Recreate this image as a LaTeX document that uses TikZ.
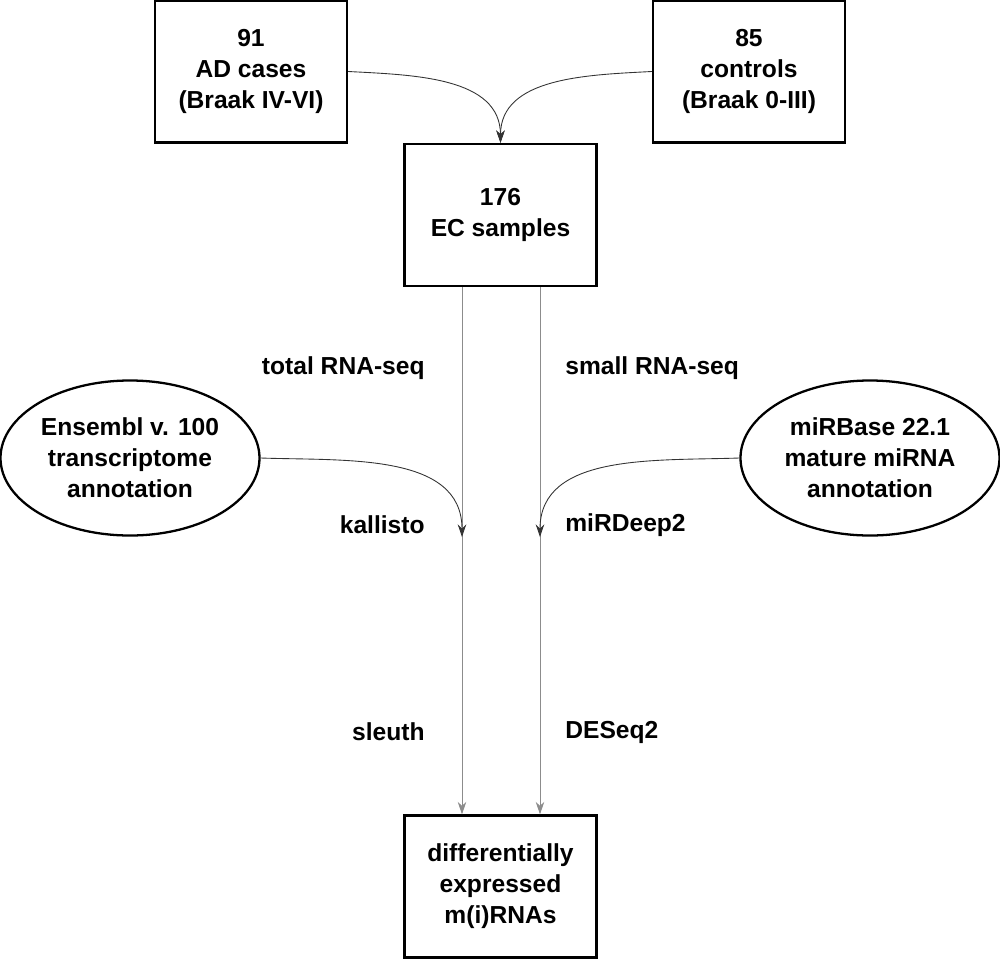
\documentclass[tikz,border=0pt]{standalone}
\usepackage{fontspec}
\setmainfont{Liberation Sans}
\usetikzlibrary{arrows.meta, shapes.geometric, positioning}

\begin{document}
\begin{tikzpicture}[
            > = {Stealth[length=2.5mm, width=1.7mm]},
            on grid,
            font = \bfseries\fontsize{14}{17.6}\selectfont,
            box/.style = {draw, line width=1.3pt, rectangle, align=center,
                minimum width=3.84cm, minimum height=2.84cm, inner sep=0pt},
            db/.style = {draw, line width=1.3pt, ellipse, align=center,
                minimum width=5.18cm, minimum height=3.1cm, inner sep=0pt},
            flow/.style = {->, line width=0.5pt, black!45},
            feed/.style = {->, line width=0.5pt, black!80},
            lbl/.style = {inner sep=0pt}
        ]
        \useasboundingbox (-10.01,4.30) rectangle (9.99,-14.86);

        \node[box] (ec) {176\\EC samples};
        \node[box, above left=2.87cm and 4.99cm of ec] (ad) {91\\AD cases\\(Braak IV-VI)};
        \node[box, above right=2.87cm and 4.97cm of ec] (ctl) {85\\controls\\(Braak 0-III)};
        \node[box, below=13.43cm of ec] (deg) {differentially\\expressed\\m(i)RNAs};
        \node[db, below left=4.86cm and 7.41cm of ec] (ens) {Ensembl v. 100\\transcriptome\\annotation};
        \node[db, below right=4.86cm and 7.39cm of ec] (mir) {miRBase 22.1\\mature miRNA\\annotation};

        \coordinate (kal) at (-0.77,-6.44);
        \coordinate (mrd) at (0.79,-6.44);

        \path (ad.east) edge[feed, out=-3, in=90] (ec.north);
        \path (ctl.west) edge[feed, out=183, in=90] (ec.north);

        \draw[flow] (ec.south -| kal) -- (deg.north -| kal);
        \draw[flow] (ec.south -| mrd) -- (deg.north -| mrd);

        \path (ens.east) edge[feed, out=-2, in=90] (kal);
        \path (mir.west) edge[feed, out=182, in=90] (mrd);

        \node[lbl, anchor=east] (tot) at (-1.51,-3.06) {total RNA-seq};
        \node[lbl, anchor=west] (sml) at (1.29,-3.06) {small RNA-seq};
        \node[lbl, anchor=east] (kalt) at (-1.51,-6.2) {kallisto};
        \node[lbl, anchor=west] (mrdt) at (1.29,-6.2) {miRDeep2};
        \node[lbl, anchor=east] (slt) at (-1.51,-10.34) {sleuth};
        \node[lbl, anchor=west] (dst) at (1.29,-10.34) {DESeq2};
    \end{tikzpicture}
\end{document}
